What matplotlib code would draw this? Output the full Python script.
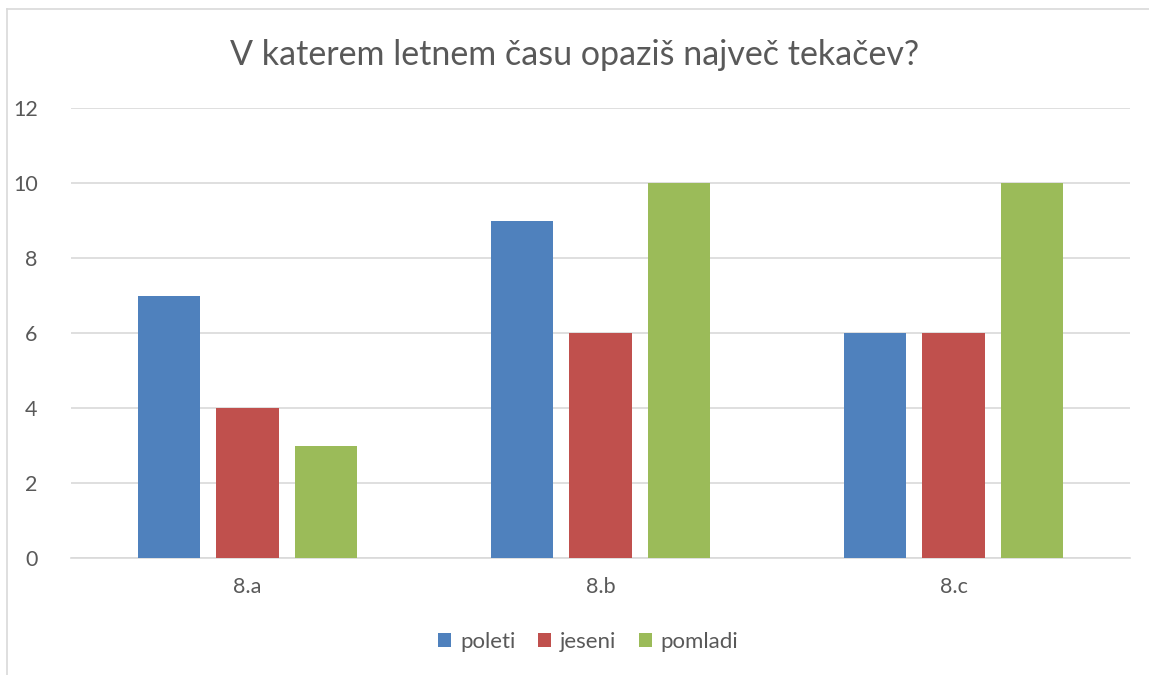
import matplotlib
matplotlib.use("Agg")
import matplotlib.pyplot as plt
import numpy as np

# chart data
razredi = ["8.a", "8.b", "8.c"]
poleti = [7, 9, 6]
jeseni = [4, 6, 6]
pomladi = [3, 10, 10]
serije = ["poleti", "jeseni", "pomladi"]
barve = ["#4f81bd", "#c0504d", "#9bbb59"]

plt.rcParams['font.family'] = ['Lato', 'DejaVu Sans']
txt = "#595959"

fig = plt.figure(figsize=(11.49, 6.75), dpi=100)
ax = fig.add_axes([71 / 1149, 1 - 558 / 675, (1130 - 71) / 1149, (558 - 108) / 675])

x = np.arange(len(razredi))
sirina = 0.176
odmik = 0.222
for i, (ime, vals) in enumerate(zip(serije, [poleti, jeseni, pomladi])):
    ax.bar(x + (i - 1) * odmik, vals, width=sirina, color=barve[i], label=ime, zorder=3)

ax.set_xlim(-0.5, 2.5)
ax.set_ylim(0, 12)
ax.set_yticks(range(0, 13, 2))
ax.set_xticks(x)
ax.set_xticklabels(razredi)
ax.tick_params(axis='both', length=0, labelsize=15.5, colors=txt)
ax.tick_params(axis='y', pad=24)
ax.tick_params(axis='x', pad=14)
ax.grid(axis='y', color="#d9d9d9", linewidth=1.2, zorder=0)
for s in ["top", "right", "left"]:
    ax.spines[s].set_visible(False)
ax.spines["bottom"].set_color("#d9d9d9")
ax.spines["bottom"].set_linewidth(1.2)

fig.text(0.5, 1 - 55 / 675, "V katerem letnem času opaziš največ tekačev?",
         ha='center', va='center', fontsize=24.5, color=txt)

leg = fig.legend(loc='center', bbox_to_anchor=(0.512, 1 - 642 / 675), ncol=3, frameon=False,
                 fontsize=16, handlelength=0.6, handleheight=0.6, handletextpad=0.4,
                 columnspacing=1.0)
for t in leg.get_texts():
    t.set_color(txt)

# outer border of chart
fig.add_artist(plt.Line2D([7 / 1149, 7 / 1149], [0, 1 - 9 / 675], color="#d9d9d9", lw=1.2))
fig.add_artist(plt.Line2D([7 / 1149, 1], [1 - 9 / 675, 1 - 9 / 675], color="#d9d9d9", lw=1.2))

fig.savefig("out.png", dpi=100)
